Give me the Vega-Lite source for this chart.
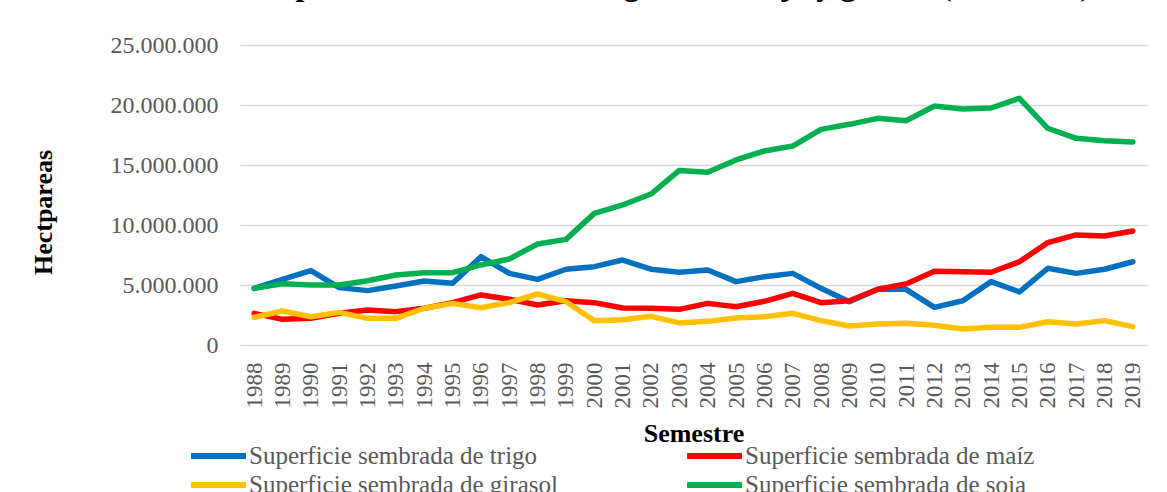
{
  "$schema": "https://vega.github.io/schema/vega-lite/v6.json",
  "autosize": "none",
  "padding": {"left": 240, "top": 45, "right": 20, "bottom": 147},
  "width": 907,
  "height": 300,
  "background": "white",
  "config": {
    "locale": {"number": {"decimal": ",", "thousands": ".", "grouping": [3], "currency": ["$", ""]}},
    "view": {"stroke": null},
    "font": "Liberation Serif"
  },
  "title": {
    "text": "Superficie sembrada de trigo, maíz, soja y girasol (hectáreas)",
    "font": "Liberation Serif",
    "fontSize": 32,
    "fontWeight": "bold",
    "color": "#000000",
    "anchor": "middle",
    "frame": "group",
    "baseline": "alphabetic",
    "offset": 0,
    "dx": -18,
    "dy": -6
  },
  "data": {
    "values": [
      {"year": "1988", "serie": "Superficie sembrada de trigo", "value": 4720000},
      {"year": "1989", "serie": "Superficie sembrada de trigo", "value": 5470000},
      {"year": "1990", "serie": "Superficie sembrada de trigo", "value": 6190000},
      {"year": "1991", "serie": "Superficie sembrada de trigo", "value": 4780000},
      {"year": "1992", "serie": "Superficie sembrada de trigo", "value": 4530000},
      {"year": "1993", "serie": "Superficie sembrada de trigo", "value": 4920000},
      {"year": "1994", "serie": "Superficie sembrada de trigo", "value": 5330000},
      {"year": "1995", "serie": "Superficie sembrada de trigo", "value": 5140000},
      {"year": "1996", "serie": "Superficie sembrada de trigo", "value": 7360000},
      {"year": "1997", "serie": "Superficie sembrada de trigo", "value": 5970000},
      {"year": "1998", "serie": "Superficie sembrada de trigo", "value": 5470000},
      {"year": "1999", "serie": "Superficie sembrada de trigo", "value": 6310000},
      {"year": "2000", "serie": "Superficie sembrada de trigo", "value": 6530000},
      {"year": "2001", "serie": "Superficie sembrada de trigo", "value": 7080000},
      {"year": "2002", "serie": "Superficie sembrada de trigo", "value": 6320000},
      {"year": "2003", "serie": "Superficie sembrada de trigo", "value": 6060000},
      {"year": "2004", "serie": "Superficie sembrada de trigo", "value": 6250000},
      {"year": "2005", "serie": "Superficie sembrada de trigo", "value": 5280000},
      {"year": "2006", "serie": "Superficie sembrada de trigo", "value": 5690000},
      {"year": "2007", "serie": "Superficie sembrada de trigo", "value": 5970000},
      {"year": "2008", "serie": "Superficie sembrada de trigo", "value": 4720000},
      {"year": "2009", "serie": "Superficie sembrada de trigo", "value": 3610000},
      {"year": "2010", "serie": "Superficie sembrada de trigo", "value": 4640000},
      {"year": "2011", "serie": "Superficie sembrada de trigo", "value": 4640000},
      {"year": "2012", "serie": "Superficie sembrada de trigo", "value": 3140000},
      {"year": "2013", "serie": "Superficie sembrada de trigo", "value": 3690000},
      {"year": "2014", "serie": "Superficie sembrada de trigo", "value": 5280000},
      {"year": "2015", "serie": "Superficie sembrada de trigo", "value": 4420000},
      {"year": "2016", "serie": "Superficie sembrada de trigo", "value": 6390000},
      {"year": "2017", "serie": "Superficie sembrada de trigo", "value": 5970000},
      {"year": "2018", "serie": "Superficie sembrada de trigo", "value": 6310000},
      {"year": "2019", "serie": "Superficie sembrada de trigo", "value": 6940000},
      {"year": "1988", "serie": "Superficie sembrada de maíz", "value": 2640000},
      {"year": "1989", "serie": "Superficie sembrada de maíz", "value": 2140000},
      {"year": "1990", "serie": "Superficie sembrada de maíz", "value": 2220000},
      {"year": "1991", "serie": "Superficie sembrada de maíz", "value": 2640000},
      {"year": "1992", "serie": "Superficie sembrada de maíz", "value": 2920000},
      {"year": "1993", "serie": "Superficie sembrada de maíz", "value": 2780000},
      {"year": "1994", "serie": "Superficie sembrada de maíz", "value": 3060000},
      {"year": "1995", "serie": "Superficie sembrada de maíz", "value": 3530000},
      {"year": "1996", "serie": "Superficie sembrada de maíz", "value": 4170000},
      {"year": "1997", "serie": "Superficie sembrada de maíz", "value": 3810000},
      {"year": "1998", "serie": "Superficie sembrada de maíz", "value": 3330000},
      {"year": "1999", "serie": "Superficie sembrada de maíz", "value": 3690000},
      {"year": "2000", "serie": "Superficie sembrada de maíz", "value": 3530000},
      {"year": "2001", "serie": "Superficie sembrada de maíz", "value": 3080000},
      {"year": "2002", "serie": "Superficie sembrada de maíz", "value": 3060000},
      {"year": "2003", "serie": "Superficie sembrada de maíz", "value": 2970000},
      {"year": "2004", "serie": "Superficie sembrada de maíz", "value": 3470000},
      {"year": "2005", "serie": "Superficie sembrada de maíz", "value": 3190000},
      {"year": "2006", "serie": "Superficie sembrada de maíz", "value": 3640000},
      {"year": "2007", "serie": "Superficie sembrada de maíz", "value": 4310000},
      {"year": "2008", "serie": "Superficie sembrada de maíz", "value": 3530000},
      {"year": "2009", "serie": "Superficie sembrada de maíz", "value": 3690000},
      {"year": "2010", "serie": "Superficie sembrada de maíz", "value": 4640000},
      {"year": "2011", "serie": "Superficie sembrada de maíz", "value": 5080000},
      {"year": "2012", "serie": "Superficie sembrada de maíz", "value": 6140000},
      {"year": "2013", "serie": "Superficie sembrada de maíz", "value": 6110000},
      {"year": "2014", "serie": "Superficie sembrada de maíz", "value": 6060000},
      {"year": "2015", "serie": "Superficie sembrada de maíz", "value": 6940000},
      {"year": "2016", "serie": "Superficie sembrada de maíz", "value": 8530000},
      {"year": "2017", "serie": "Superficie sembrada de maíz", "value": 9170000},
      {"year": "2018", "serie": "Superficie sembrada de maíz", "value": 9080000},
      {"year": "2019", "serie": "Superficie sembrada de maíz", "value": 9500000},
      {"year": "1988", "serie": "Superficie sembrada de girasol", "value": 2310000},
      {"year": "1989", "serie": "Superficie sembrada de girasol", "value": 2830000},
      {"year": "1990", "serie": "Superficie sembrada de girasol", "value": 2360000},
      {"year": "1991", "serie": "Superficie sembrada de girasol", "value": 2720000},
      {"year": "1992", "serie": "Superficie sembrada de girasol", "value": 2220000},
      {"year": "1993", "serie": "Superficie sembrada de girasol", "value": 2220000},
      {"year": "1994", "serie": "Superficie sembrada de girasol", "value": 3060000},
      {"year": "1995", "serie": "Superficie sembrada de girasol", "value": 3470000},
      {"year": "1996", "serie": "Superficie sembrada de girasol", "value": 3110000},
      {"year": "1997", "serie": "Superficie sembrada de girasol", "value": 3530000},
      {"year": "1998", "serie": "Superficie sembrada de girasol", "value": 4250000},
      {"year": "1999", "serie": "Superficie sembrada de girasol", "value": 3610000},
      {"year": "2000", "serie": "Superficie sembrada de girasol", "value": 2030000},
      {"year": "2001", "serie": "Superficie sembrada de girasol", "value": 2110000},
      {"year": "2002", "serie": "Superficie sembrada de girasol", "value": 2390000},
      {"year": "2003", "serie": "Superficie sembrada de girasol", "value": 1840000},
      {"year": "2004", "serie": "Superficie sembrada de girasol", "value": 1970000},
      {"year": "2005", "serie": "Superficie sembrada de girasol", "value": 2250000},
      {"year": "2006", "serie": "Superficie sembrada de girasol", "value": 2360000},
      {"year": "2007", "serie": "Superficie sembrada de girasol", "value": 2640000},
      {"year": "2008", "serie": "Superficie sembrada de girasol", "value": 2030000},
      {"year": "2009", "serie": "Superficie sembrada de girasol", "value": 1580000},
      {"year": "2010", "serie": "Superficie sembrada de girasol", "value": 1750000},
      {"year": "2011", "serie": "Superficie sembrada de girasol", "value": 1810000},
      {"year": "2012", "serie": "Superficie sembrada de girasol", "value": 1640000},
      {"year": "2013", "serie": "Superficie sembrada de girasol", "value": 1330000},
      {"year": "2014", "serie": "Superficie sembrada de girasol", "value": 1470000},
      {"year": "2015", "serie": "Superficie sembrada de girasol", "value": 1470000},
      {"year": "2016", "serie": "Superficie sembrada de girasol", "value": 1940000},
      {"year": "2017", "serie": "Superficie sembrada de girasol", "value": 1750000},
      {"year": "2018", "serie": "Superficie sembrada de girasol", "value": 2030000},
      {"year": "2019", "serie": "Superficie sembrada de girasol", "value": 1530000},
      {"year": "1988", "serie": "Superficie sembrada de soja", "value": 4720000},
      {"year": "1989", "serie": "Superficie sembrada de soja", "value": 5100000},
      {"year": "1990", "serie": "Superficie sembrada de soja", "value": 5000000},
      {"year": "1991", "serie": "Superficie sembrada de soja", "value": 5000000},
      {"year": "1992", "serie": "Superficie sembrada de soja", "value": 5360000},
      {"year": "1993", "serie": "Superficie sembrada de soja", "value": 5830000},
      {"year": "1994", "serie": "Superficie sembrada de soja", "value": 6030000},
      {"year": "1995", "serie": "Superficie sembrada de soja", "value": 6030000},
      {"year": "1996", "serie": "Superficie sembrada de soja", "value": 6670000},
      {"year": "1997", "serie": "Superficie sembrada de soja", "value": 7170000},
      {"year": "1998", "serie": "Superficie sembrada de soja", "value": 8420000},
      {"year": "1999", "serie": "Superficie sembrada de soja", "value": 8800000},
      {"year": "2000", "serie": "Superficie sembrada de soja", "value": 10970000},
      {"year": "2001", "serie": "Superficie sembrada de soja", "value": 11670000},
      {"year": "2002", "serie": "Superficie sembrada de soja", "value": 12580000},
      {"year": "2003", "serie": "Superficie sembrada de soja", "value": 14550000},
      {"year": "2004", "serie": "Superficie sembrada de soja", "value": 14390000},
      {"year": "2005", "serie": "Superficie sembrada de soja", "value": 15420000},
      {"year": "2006", "serie": "Superficie sembrada de soja", "value": 16170000},
      {"year": "2007", "serie": "Superficie sembrada de soja", "value": 16580000},
      {"year": "2008", "serie": "Superficie sembrada de soja", "value": 17970000},
      {"year": "2009", "serie": "Superficie sembrada de soja", "value": 18390000},
      {"year": "2010", "serie": "Superficie sembrada de soja", "value": 18890000},
      {"year": "2011", "serie": "Superficie sembrada de soja", "value": 18690000},
      {"year": "2012", "serie": "Superficie sembrada de soja", "value": 19920000},
      {"year": "2013", "serie": "Superficie sembrada de soja", "value": 19670000},
      {"year": "2014", "serie": "Superficie sembrada de soja", "value": 19750000},
      {"year": "2015", "serie": "Superficie sembrada de soja", "value": 20560000},
      {"year": "2016", "serie": "Superficie sembrada de soja", "value": 18060000},
      {"year": "2017", "serie": "Superficie sembrada de soja", "value": 17220000},
      {"year": "2018", "serie": "Superficie sembrada de soja", "value": 17030000},
      {"year": "2019", "serie": "Superficie sembrada de soja", "value": 16920000}
    ]
  },
  "mark": {"type": "line", "strokeWidth": 5.5, "strokeCap": "round", "strokeJoin": "round"},
  "encoding": {
    "x": {
      "field": "year",
      "type": "ordinal",
      "sort": null,
      "scale": {"type": "point", "padding": 0.5},
      "axis": {
        "title": "Semestre",
        "titleFont": "Liberation Serif",
        "titleFontSize": 26,
        "titleFontWeight": "bold",
        "titleColor": "#000000",
        "titleBaseline": "alphabetic",
        "titleY": 96,
        "labelAngle": 270,
        "labelFont": "Liberation Serif",
        "labelFontSize": 23,
        "labelColor": "#595959",
        "labelPadding": 17,
        "ticks": false,
        "domain": false,
        "grid": false
      }
    },
    "y": {
      "field": "value",
      "type": "quantitative",
      "scale": {"domain": [0, 25000000], "nice": false},
      "axis": {
        "title": "Hectpareas",
        "titleFont": "Liberation Serif",
        "titleFontSize": 26,
        "titleFontWeight": "bold",
        "titleColor": "#000000",
        "titleAngle": 270,
        "titleAlign": "center",
        "titleBaseline": "alphabetic",
        "titleX": -189,
        "titleY": 167,
        "values": [0, 5000000, 10000000, 15000000, 20000000, 25000000],
        "format": ",d",
        "labelFont": "Liberation Serif",
        "labelFontSize": 24,
        "labelColor": "#595959",
        "labelPadding": 22,
        "ticks": false,
        "domain": false,
        "grid": true,
        "gridColor": "#D9D9D9",
        "gridWidth": 1.5
      }
    },
    "color": {
      "field": "serie",
      "type": "nominal",
      "sort": null,
      "scale": {
        "domain": ["Superficie sembrada de trigo", "Superficie sembrada de maíz", "Superficie sembrada de girasol", "Superficie sembrada de soja"],
        "range": ["#0070C0", "#FF0000", "#FFC000", "#00B050"]
      },
      "legend": {
        "title": null,
        "orient": "none",
        "legendX": -21,
        "legendY": 396,
        "direction": "horizontal",
        "columns": 2,
        "columnPadding": 117,
        "rowPadding": 1,
        "symbolType": "M-3.58,0H1",
        "symbolSize": 576,
        "symbolStrokeWidth": 6,
        "labelFont": "Liberation Serif",
        "labelFontSize": 25,
        "labelColor": "#595959",
        "labelOffset": 0,
        "labelLimit": 600
      }
    }
  }
}
